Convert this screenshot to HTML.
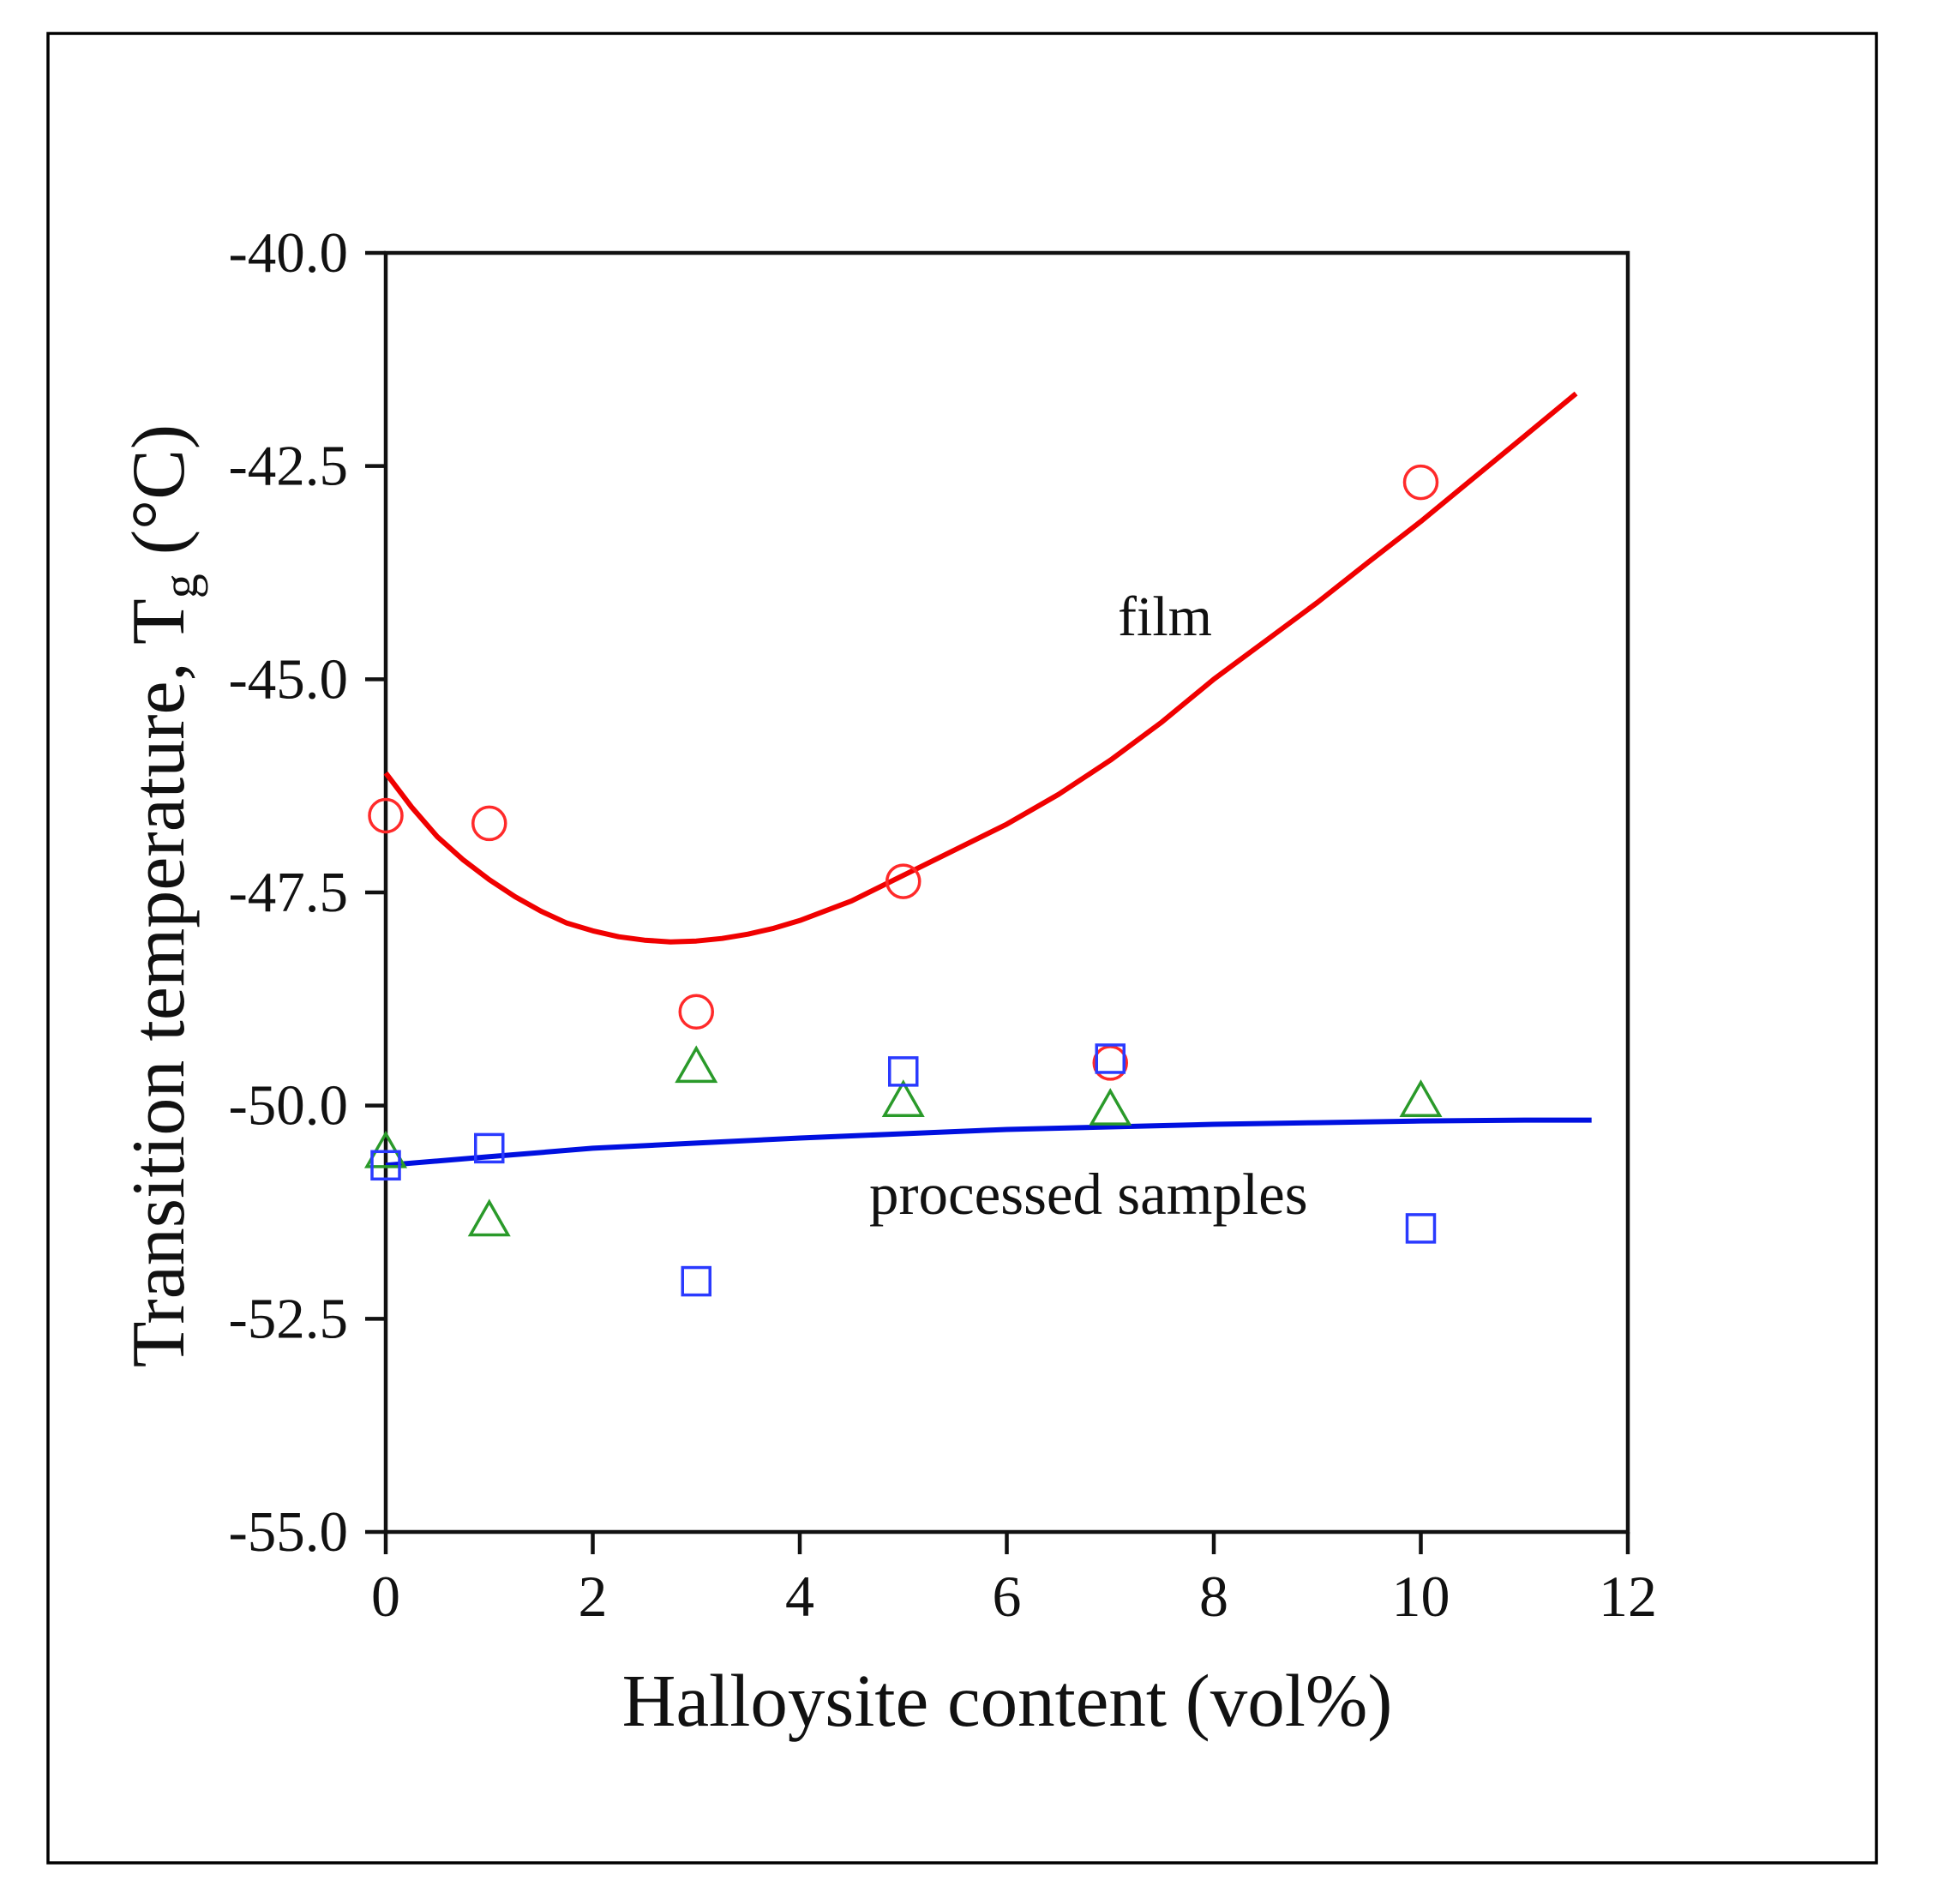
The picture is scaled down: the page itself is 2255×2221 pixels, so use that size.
<!DOCTYPE html>
<html><head><meta charset="utf-8"><style>
html,body{margin:0;padding:0;background:#fff}
svg{display:block}
text{font-family:"Liberation Serif",serif;fill:#111}
</style></head><body>
<svg id="chart" width="2255" height="2221" viewBox="0 0 2255 2221" xmlns="http://www.w3.org/2000/svg">
<rect x="56" y="39" width="2133" height="2134" fill="none" stroke="#000" stroke-width="3.5"/>
<g id="plot"></g>
</svg>
<script>
const xTicks=[0,2,4,6,8,10,12];
const yTicks=[-40,-42.5,-45,-47.5,-50,-52.5,-55];
const yTickLabels=["-40.0","-42.5","-45.0","-47.5","-50.0","-52.5","-55.0"];
const sampleX=[0,1,3,5,7,10];
const filmValues=[-46.6,-46.69,-48.9,-47.37,-49.5,-42.69];
const triangleValues=[-50.55,-51.35,-49.55,-49.95,-50.05,-49.95];
const squareValues=[-50.7,-50.5,-52.06,-49.6,-49.45,-51.44];
const filmFitX=[0,0.25,0.5,0.75,1,1.25,1.5,1.75,2,2.25,2.5,2.75,3,3.25,3.5,3.75,4,4.5,5,5.5,6,6.5,7,7.5,8,8.5,9,9.5,10,10.5,11,11.5];
const filmFitY=[-46.1,-46.5,-46.85,-47.12,-47.35,-47.55,-47.72,-47.86,-47.95,-48.02,-48.06,-48.08,-48.07,-48.04,-47.99,-47.92,-47.83,-47.6,-47.3,-47.0,-46.7,-46.35,-45.95,-45.5,-45.0,-44.55,-44.1,-43.62,-43.15,-42.65,-42.15,-41.65];
const procFitX=[0,1,2,3,4,5,6,7,8,9,10,11,11.65];
const procFitY=[-50.7,-50.6,-50.5,-50.44,-50.38,-50.33,-50.28,-50.25,-50.22,-50.2,-50.18,-50.17,-50.17];

const X0=450,X1=1899,Y0=295,Y1=1787;
const sx=v=>X0+(v-0)/(12-0)*(X1-X0);
const sy=v=>Y0+(-40-v)/15*(Y1-Y0);
const NS="http://www.w3.org/2000/svg";
const g=document.getElementById('plot');
function mk(tag,attrs,parent){const e=document.createElementNS(NS,tag);for(const k in attrs)e.setAttribute(k,attrs[k]);(parent||g).appendChild(e);return e;}

const frame=mk('rect',{x:X0,y:Y0,width:X1-X0,height:Y1-Y0,fill:'none',stroke:'#111','stroke-width':4.5});



xTicks.forEach(t=>{
  const l=mk('line',{x1:sx(t),x2:sx(t),y1:Y1,y2:Y1+26,stroke:'#111','stroke-width':4.5});
  
  
  const tx=mk('text',{x:sx(t),y:1885,'text-anchor':'middle','font-size':68});
  tx.textContent=t;
  
  
});
yTicks.forEach((t,i)=>{
  const l=mk('line',{x1:X0-24,x2:X0,y1:sy(t),y2:sy(t),stroke:'#111','stroke-width':4.5});
  
  
  const tx=mk('text',{x:406,y:sy(t)+22,'text-anchor':'end','font-size':67});
  tx.textContent=yTickLabels[i];
  
  
});

function line(xs,ys,color,name){
  const d=xs.map((x,i)=>(i?'L':'M')+sx(x).toFixed(1)+','+sy(ys[i]).toFixed(1)).join(' ');
  const p=mk('path',{d:d,fill:'none',stroke:color,'stroke-width':6,'stroke-linejoin':'round'});
  
  
}
line(filmFitX,filmFitY,'#f00000','film-fit-curve');
line(procFitX,procFitY,'#0010e0','processed-fit-line');

sampleX.forEach((x,i)=>{
  const c=mk('circle',{cx:sx(x),cy:sy(filmValues[i]),r:19,fill:'none',stroke:'#ff2a2a','stroke-width':3.5});
  
  
});
sampleX.forEach((x,i)=>{
  const cx=sx(x),cy=sy(triangleValues[i]),r=22;
  const t=mk('polygon',{points:`${cx},${cy-r} ${cx-r},${cy+r*0.75} ${cx+r},${cy+r*0.75}`,fill:'none',stroke:'#2a9a2a','stroke-width':3.5});
  
  
});
sampleX.forEach((x,i)=>{
  const s=mk('rect',{x:sx(x)-16,y:sy(squareValues[i])-16,width:32,height:32,fill:'none',stroke:'#2a3aff','stroke-width':3.5});
  
  
});

const f=mk('text',{x:1304,y:741,'font-size':66});
f.textContent='film';


const ps=mk('text',{x:1014,y:1416,'font-size':69});
ps.textContent='processed samples';


const xt=mk('text',{x:1175,y:2013,'text-anchor':'middle','font-size':87});
xt.textContent='Halloysite content (vol%)';


const yt=mk('text',{x:0,y:0,'text-anchor':'middle','font-size':88,transform:'translate(214,1045) rotate(-90)'});
yt.innerHTML='Transition temperature, T<tspan font-size="58" dy="16">g</tspan><tspan dy="-16"> (°C)</tspan>';


</script>
</body></html>
